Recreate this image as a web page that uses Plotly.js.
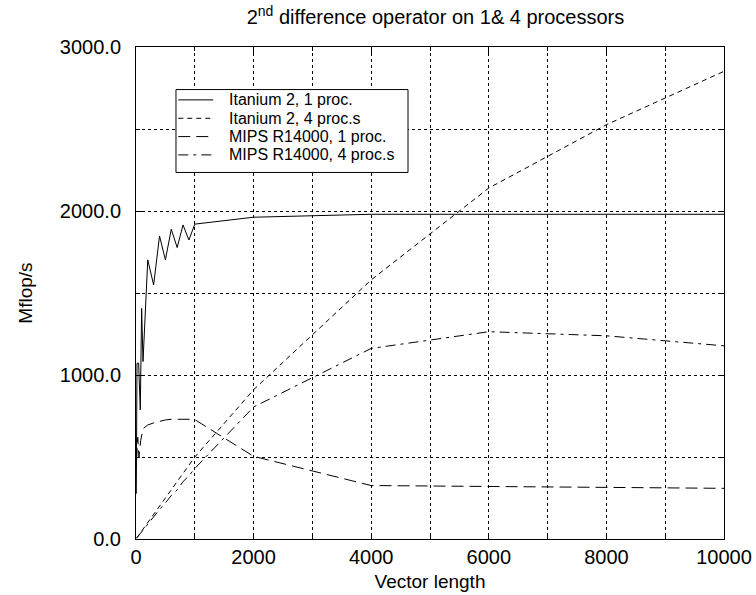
<!DOCTYPE html>
<html>
<head>
<meta charset="utf-8">
<script src="https://cdn.plot.ly/plotly-3.0.1.min.js"></script>
<style>
  html, body { margin: 0; padding: 0; background: #fff; }
  #chart { width: 756px; height: 595px; }
</style>
</head>
<body>
<div id="chart"></div>
<script>
// Itanium 2, 1 proc.
const xItanium1 = [5, 17, 45, 73, 96, 119, 200, 300, 400, 500, 600, 700, 800, 900, 1000, 2000, 4000, 6000, 8000, 10000];
const itanium1 = [276, 1072, 1072, 787, 1406, 1082, 1702, 1549, 1848, 1702, 1889, 1777, 1915, 1823, 1920, 1962, 1980, 1981, 1981, 1980];

// Itanium 2, 4 proc.s
const xItanium4 = [10, 100, 200, 300, 400, 500, 600, 700, 800, 900, 1000, 2000, 4000, 6000, 8000, 10000];
const itanium4 = [5, 50, 100, 150, 195, 250, 300, 345, 400, 450, 500, 910, 1580, 2140, 2526, 2852];

// MIPS R14000, 1 proc.
const xMips1 = [10, 30, 50, 80, 120, 200, 300, 400, 500, 600, 700, 800, 900, 1000, 2000, 4000, 6000, 8000, 10000];
const mips1 = [480, 620, 500, 600, 673, 695, 708, 718, 726, 730, 731, 731, 730, 728, 504, 326, 321, 315, 309];

// MIPS R14000, 4 proc.s
const xMips4 = [10, 100, 200, 300, 400, 500, 600, 700, 800, 900, 1000, 2000, 4000, 6000, 8000, 10000];
const mips4 = [5, 45, 95, 135, 180, 220, 265, 300, 350, 385, 430, 805, 1162, 1264, 1239, 1178];

const seriesNames = ["Itanium 2, 1 proc.", "Itanium 2, 4 proc.s", "MIPS R14000, 1 proc.", "MIPS R14000, 4 proc.s"];
const seriesDash = ["solid", "5px,4px", "12px,6px", "10px,5px,3px,5px"];

const FONT = "Liberation Sans, Arial, Helvetica, sans-serif";

const xs = [xItanium1, xItanium4, xMips1, xMips4];
const ys = [itanium1, itanium4, mips1, mips4];

const traces = seriesNames.map((name, i) => ({
  x: xs[i], y: ys[i], name: name, mode: "lines", showlegend: false,
  line: {color: "#000", width: 1, dash: seriesDash[i]}
}));

// Legend drawn in paper coordinates (box, sample lines, labels)
const legBox = {x0: 0.068, x1: 0.4626, y0: 0.745, y1: 0.9135};
const legRowY = [0.8925, 0.8551, 0.8179, 0.7807];
const legSample = {x0: 0.0719, x1: 0.1314};
const legTextX = 0.155;

const shapes = [
  {type: "rect", xref: "paper", yref: "paper", x0: legBox.x0, x1: legBox.x1, y0: legBox.y0, y1: legBox.y1,
   line: {color: "#000", width: 1}, fillcolor: "#fff", layer: "above"}
];
const annotations = [];
seriesNames.forEach((name, i) => {
  shapes.push({type: "line", xref: "paper", yref: "paper", x0: legSample.x0, x1: legSample.x1,
               y0: legRowY[i], y1: legRowY[i], line: {color: "#000", width: 1, dash: seriesDash[i]}, layer: "above"});
  annotations.push({xref: "paper", yref: "paper", x: legTextX, y: legRowY[i], xanchor: "left", yanchor: "middle",
                    text: name, showarrow: false, font: {family: FONT, size: 16, color: "#000"}});
});

const layout = {
  width: 756, height: 595,
  paper_bgcolor: "#fff", plot_bgcolor: "#fff",
  margin: {l: 136, r: 32, t: 47, b: 56, pad: 0},
  font: {family: FONT, size: 19, color: "#000"},
  title: {text: "2<sup>nd</sup> difference operator on 1& 4 processors",
          font: {family: FONT, size: 20, color: "#000"},
          x: 0.576, xanchor: "center", y: 0.971, yanchor: "middle", yref: "container"},
  showlegend: false,
  shapes: shapes,
  annotations: annotations,
  xaxis: {
    range: [0, 10000], dtick: 2000, tick0: 0, tickformat: "d",
    showline: true, linecolor: "#000", linewidth: 1, mirror: "ticks",
    ticks: "inside", ticklen: 6, tickcolor: "#000",
    showgrid: true, gridcolor: "#000", gridwidth: 1, griddash: "dot",
    zeroline: false,
    minor: {dtick: 1000, ticks: "inside", ticklen: 4, tickcolor: "#000",
            showgrid: true, gridcolor: "#000", gridwidth: 1, griddash: "dot"},
    tickfont: {family: FONT, size: 20, color: "#000"},
    ticklabelstandoff: 0,
    title: {text: "Vector length", font: {family: FONT, size: 19, color: "#000"}, standoff: 7}
  },
  yaxis: {
    range: [0, 3000], dtick: 1000, tick0: 0, tickformat: ".1f",
    showline: true, linecolor: "#000", linewidth: 1, mirror: "ticks",
    ticks: "inside", ticklen: 6, tickcolor: "#000",
    showgrid: true, gridcolor: "#000", gridwidth: 1, griddash: "dot",
    zeroline: false,
    minor: {dtick: 500, ticks: "inside", ticklen: 4, tickcolor: "#000",
            showgrid: true, gridcolor: "#000", gridwidth: 1, griddash: "dot"},
    tickfont: {family: FONT, size: 20, color: "#000"},
    ticklabelstandoff: 10,
    title: {text: "Mflop/s", font: {family: FONT, size: 19, color: "#000"}, standoff: 22}
  }
};

Plotly.newPlot("chart", traces, layout, {displayModeBar: false, staticPlot: true});
</script>
</body>
</html>
